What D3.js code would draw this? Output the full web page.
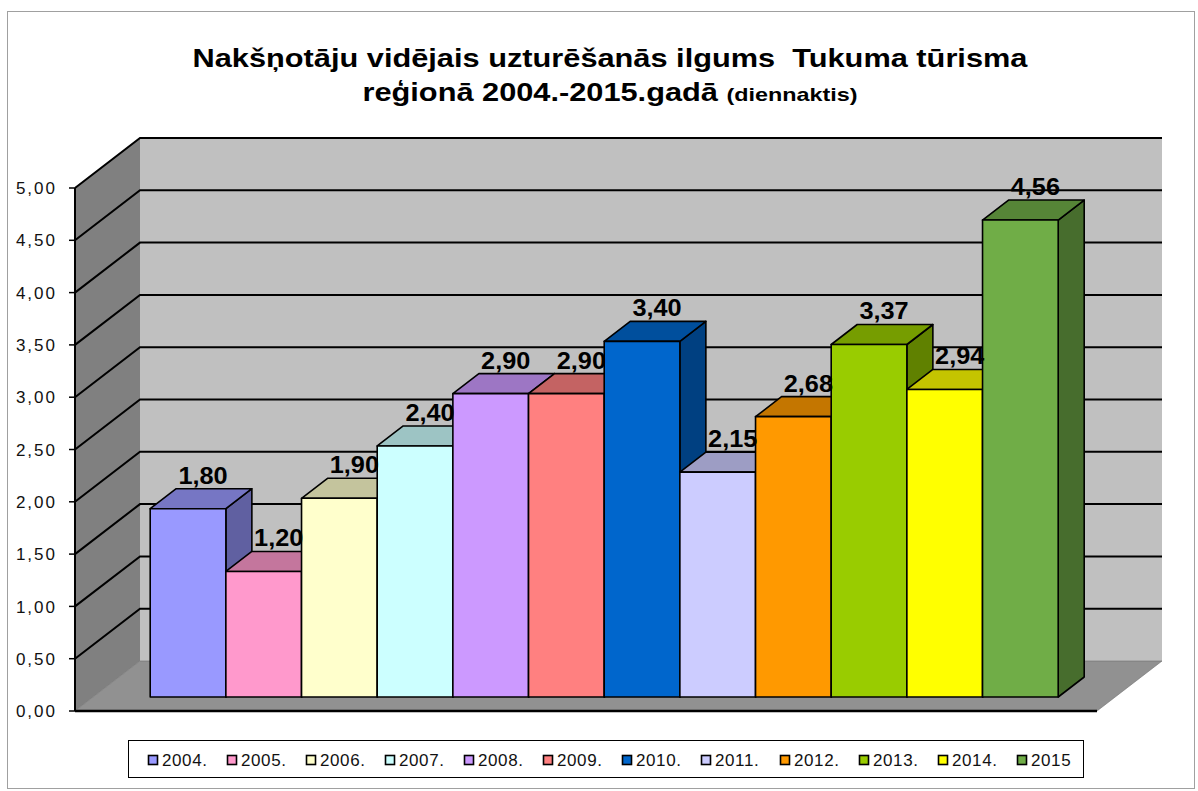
<!DOCTYPE html>
<meta charset="utf-8">
<title>Nakšņotāju vidējais uzturēšanās ilgums</title>
<script src="https://d3js.org/d3.v7.min.js"></script>
<style>
	body { margin: 0; background: #fff; font-family: "Liberation Sans", Arial, sans-serif; }
	text { font-family: "Liberation Sans", Arial, sans-serif; }
</style>
<div id="chart"></div>
<script>

var years = ["2004.", "2005.", "2006.", "2007.", "2008.", "2009.", "2010.", "2011.", "2012.", "2013.", "2014.", "2015"];
var values = [1.80, 1.20, 1.90, 2.40, 2.90, 2.90, 3.40, 2.15, 2.68, 3.37, 2.94, 4.56];
var colors = ["#9999FF", "#FF99CC", "#FFFFCC", "#CCFFFF", "#CC99FF", "#FF8080", "#0066CC", "#CCCCFF", "#FF9900", "#99CC00", "#FFFF00", "#70AD47"];
var yTicks = [0, 0.5, 1, 1.5, 2, 2.5, 3, 3.5, 4, 4.5, 5];

var width = 1198, height = 791;

var svg = d3.select("#chart").append("svg")
	.attr("width", width)
	.attr("height", height);

var comma = function(v) { return d3.format(".2f")(v).replace(".", ","); };

// pseudo 3D: depth goes up and to the right
var DX = 65, DY = -50;
var y = d3.scaleLinear().domain([0, 5]).range([711, 188]);
var x = d3.scaleBand().domain(years).range([132, 1040]).paddingInner(0);
var d0 = 0.28, d1 = 0.68; // bar front / back depth

function p(px, v, d) { return [px + d * DX, y(v) + d * DY]; }
function poly(pts) { return "M" + pts.map(function(q) { return q.join(","); }).join("L") + "Z"; }

function shade(c, k) {
	var r = d3.rgb(c);
	return d3.rgb(r.r * k, r.g * k, r.b * k).formatHex();
}

// outer frame
svg.append("rect")
	.attr("x", 7.5).attr("y", 11.5)
	.attr("width", 1187).attr("height", 777)
	.attr("fill", "none").attr("stroke", "#a0a0a0");

// title (the original is stretched sideways)
var title = svg.append("g")
	.attr("transform", "translate(610,0) scale(1.23,1)")
	.append("text")
	.attr("text-anchor", "middle")
	.attr("font-weight", "bold")
	.style("white-space", "pre");
title.append("tspan").attr("x", 0).attr("y", 67).attr("font-size", 25)
	.text("Nakšņotāju vidējais uzturēšanās ilgums  Tukuma tūrisma");
title.append("tspan").attr("x", 0).attr("y", 101).attr("font-size", 25)
	.text("reģionā 2004.-2015.gadā ")
	.append("tspan").attr("font-size", 19).text("(diennaktis)");

var x0 = 75, x1 = 1097;

// back wall
svg.append("path")
	.attr("d", poly([[x0 + DX, y(5) + DY], [x1 + DX, y(5) + DY], [x1 + DX, y(0) + DY], [x0 + DX, y(0) + DY]]))
	.attr("fill", "#c0c0c0");

// left wall
svg.append("path")
	.attr("d", poly([[x0, y(5)], [x0 + DX, y(5) + DY], [x0 + DX, y(0) + DY], [x0, y(0)]]))
	.attr("fill", "#808080");

// floor
svg.append("path")
	.attr("d", poly([[x0, y(0)], [x1, y(0)], [x1 + DX, y(0) + DY], [x0 + DX, y(0) + DY]]))
	.attr("fill", "#919191")
	.attr("stroke", "#6e6e6e").attr("stroke-width", 0.6);

// gridlines on left wall and back wall
var grid = svg.append("g").attr("stroke", "#000").attr("stroke-width", 2).attr("fill", "none");
grid.selectAll(".gl")
	.data(yTicks.filter(function(t) { return t > 0; }))
	.enter().append("path")
	.attr("d", function(t) {
		return "M" + x0 + "," + y(t) + "L" + (x0 + DX) + "," + (y(t) + DY) + "L" + (x1 + DX) + "," + (y(t) + DY);
	});

// bars
var bars = svg.append("g").attr("stroke", "#000").attr("stroke-width", 1.6).attr("stroke-linejoin", "round");
years.forEach(function(yr, i) {
	var v = values[i];
	var bx0 = x(yr), bx1 = x(yr) + x.bandwidth();
	var g = bars.append("g");
	g.append("path")
		.attr("d", poly([p(bx1, 0, d0), p(bx1, 0, d1), p(bx1, v, d1), p(bx1, v, d0)]))
		.attr("fill", shade(colors[i], 0.63));
	g.append("path")
		.attr("d", poly([p(bx0, v, d0), p(bx1, v, d0), p(bx1, v, d1), p(bx0, v, d1)]))
		.attr("fill", shade(colors[i], 0.77));
	g.append("path")
		.attr("d", poly([p(bx0, 0, d0), p(bx1, 0, d0), p(bx1, v, d0), p(bx0, v, d0)]))
		.attr("fill", colors[i]);
});

// floor front edge
svg.append("line")
	.attr("x1", x0).attr("x2", x1).attr("y1", y(0)).attr("y2", y(0))
	.attr("stroke", "#000").attr("stroke-width", 2.5);

// y axis
var axis = svg.append("g");
axis.append("line")
	.attr("x1", x0).attr("x2", x0).attr("y1", y(5)).attr("y2", y(0))
	.attr("stroke", "#000").attr("stroke-width", 2);
axis.selectAll(".tick")
	.data(yTicks)
	.enter().append("line")
	.attr("x1", x0 - 6).attr("x2", x0)
	.attr("y1", function(t) { return y(t); }).attr("y2", function(t) { return y(t); })
	.attr("stroke", "#000").attr("stroke-width", 1.5);
axis.selectAll(".lbl")
	.data(yTicks)
	.enter().append("text")
	.attr("x", 57)
	.attr("y", function(t) { return y(t); })
	.attr("dy", "0.36em")
	.attr("text-anchor", "end")
	.attr("font-size", 17)
	.attr("letter-spacing", 2)
	.attr("fill", "#111")
	.text(comma);

// value labels
svg.append("g").selectAll("g")
	.data(years)
	.enter().append("g")
	.attr("transform", function(yr, i) {
		var c = p(x(yr) + x.bandwidth() / 2, values[i], (d0 + d1) / 2);
		return "translate(" + (c[0] + 2) + "," + (c[1] - 15) + ") scale(1.1,1)";
	})
	.append("text")
	.attr("text-anchor", "middle")
	.attr("font-size", 23)
	.attr("font-weight", "bold")
	.attr("fill", "#000")
	.text(function(yr, i) { return comma(values[i]); });

// legend
var legend = svg.append("g");
legend.append("rect")
	.attr("x", 128.5).attr("y", 740.5)
	.attr("width", 955).attr("height", 37)
	.attr("fill", "#fff").attr("stroke", "#000").attr("stroke-width", 1);
var lx = d3.scaleLinear().domain([0, years.length - 1]).range([148, 1017]);
var item = legend.selectAll(".item")
	.data(years)
	.enter().append("g")
	.attr("transform", function(yr, i) { return "translate(" + lx(i) + ",0)"; });
item.append("rect")
	.attr("x", 0.5).attr("y", 755.5)
	.attr("width", 9).attr("height", 9)
	.attr("fill", function(yr, i) { return colors[i]; })
	.attr("stroke", "#000").attr("stroke-width", 1.6);
item.append("text")
	.attr("x", 14).attr("y", 766)
	.attr("font-size", 17)
	.attr("letter-spacing", 0.6)
	.attr("fill", "#111")
	.text(function(yr) { return yr; });

</script>
